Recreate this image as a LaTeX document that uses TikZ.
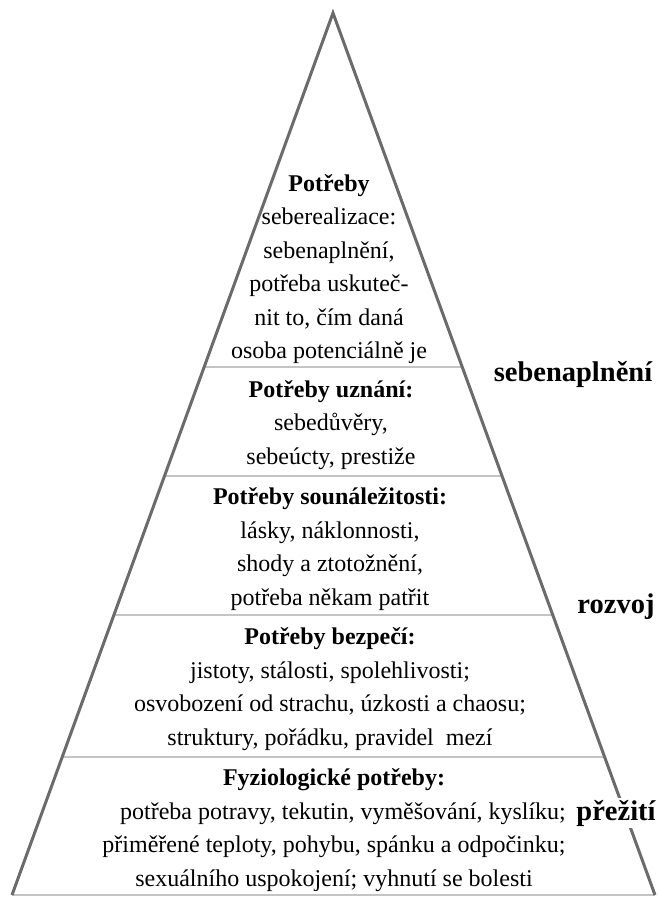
\documentclass[tikz,border=0pt]{standalone}
\usepackage{fontspec}
\setmainfont{Liberation Serif}
\usetikzlibrary{calc}
\definecolor{sidegray}{HTML}{6B6B6B}
\definecolor{linegray}{HTML}{C4C4C4}

\begin{document}
\begin{tikzpicture}[x=1pt, y=-1pt,
  level/.style={align=center, inner sep=0pt, font=\fontsize{24}{33.5}\selectfont},
  stage/.style={fill=white, inner sep=1.5pt, font=\fontsize{28.5}{30}\selectfont\bfseries},
  divider/.style={draw=linegray, line width=1.4pt},
  side/.style={draw=sidegray, line width=3pt}]
\useasboundingbox (0,0) rectangle (659,897);
\coordinate (apex) at (333,13);
\coordinate (left) at (12,895);
\coordinate (right) at (655,895);
\foreach \y in {367,476,615,757}
  \draw[divider] ($(apex)!{(\y-13)/882}!(left)$) -- ($(apex)!{(\y-13)/882}!(right)$);
\draw[divider] (left) -- (right);
\draw[side] (left) -- (apex) -- (right);
\node[level] (selfact) at (329,269) {\textbf{Potřeby}\\seberealizace:\\sebenaplnění,\\potřeba uskuteč-\\nit to, čím daná\\osoba potenciálně je};
\node[level] (esteem) at (331,425) {\textbf{Potřeby uznání:}\\sebedůvěry,\\sebeúcty, prestiže};
\node[level] (belong) at (330,549) {\textbf{Potřeby sounáležitosti:}\\lásky, náklonnosti,\\shody a ztotožnění,\\potřeba někam patřit};
\node[level] (safety) at (330,689) {\textbf{Potřeby bezpečí:}\\jistoty, stálosti, spolehlivosti;\\osvobození od strachu, úzkosti a chaosu;\\struktury, pořádku, pravidel\ \ mezí};
\node[level] (physio) at (334,830) {\textbf{Fyziologické potřeby:}\\\hspace*{18pt}potřeba potravy, tekutin, vyměšování, kyslíku;\\přiměřené teploty, pohybu, spánku a odpočinku;\\sexuálního uspokojení; vyhnutí se bolesti};
\node[stage, anchor=base] (fulfil) at (573,381) {sebenaplnění};
\node[stage, anchor=base] (growth) at (616,613) {rozvoj};
\node[stage, anchor=base] (survive) at (616,820) {přežití};
\end{tikzpicture}
\end{document}
